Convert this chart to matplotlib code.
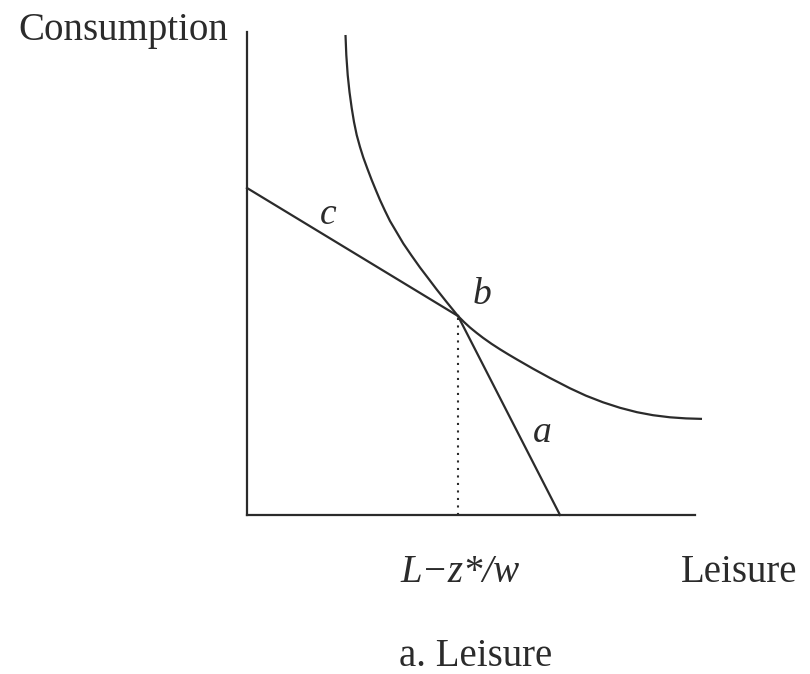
import matplotlib
matplotlib.use("Agg")
import matplotlib.pyplot as plt

# Indifference curve (leisure, consumption), traced as a sequence of points
curve_leisure = [98.5, 99.3, 100.7, 102.5, 104.7, 107, 109.7, 113, 116.3,
                 120.5, 124.7, 129, 133, 138, 143, 149.5, 156.3, 164.5, 173,
                 181, 189.7, 200, 211, 217, 223, 229.5, 236, 244.5, 253,
                 261.5, 270, 286, 303, 323, 339, 356, 373, 390, 406, 423,
                 439, 455]
curve_consumption = [480, 460, 440, 423, 407, 393, 380, 368, 357.5, 346,
                     335, 324.5, 315, 304.2, 294, 283, 271.5, 259.5, 247.5,
                     237, 225.5, 212.5, 199, 193, 187.5, 182.2, 177.2, 171.2,
                     165.7, 160.5, 155.5, 146.3, 137, 126.7, 119.3, 112.7,
                     107.2, 102.8, 99.8, 97.7, 96.6, 96.1]

# Kinked budget constraint: segment c (flat part) and segment a (steep part)
kink_point = (211, 199)            # point b
budget_c_start = (0, 327)          # intercept on the consumption axis
budget_a_end = (313, 0)            # intercept on the leisure axis

segment_labels = ["c", "b", "a"]
x_axis_label = "Leisure"
y_axis_label = "Consumption"
kink_tick_label = "L\u2212z*/w"
panel_title = "a. Leisure"

W, H, DPI = 810, 674, 100
fig = plt.figure(figsize=(W / DPI, H / DPI), dpi=DPI)
ax = fig.add_axes([247 / W, (H - 515) / H, 448 / W, 483 / H])
ax.set_xlim(0, 448)
ax.set_ylim(0, 483)

ink = "#2b2b2b"
lw = 1.6
serif = ["Liberation Serif", "DejaVu Serif"]

for side in ("top", "right"):
    ax.spines[side].set_visible(False)
for side in ("left", "bottom"):
    ax.spines[side].set_color(ink)
    ax.spines[side].set_linewidth(lw)
ax.set_xticks([])
ax.set_yticks([])

# indifference curve
ax.plot(curve_leisure, curve_consumption, color=ink, lw=lw,
        solid_joinstyle="round", solid_capstyle="butt", clip_on=False)

# budget segments
ax.plot([budget_c_start[0], kink_point[0]], [budget_c_start[1], kink_point[1]],
        color=ink, lw=lw, clip_on=False)
ax.plot([kink_point[0], budget_a_end[0]], [kink_point[1], budget_a_end[1]],
        color=ink, lw=lw, clip_on=False)

# dotted drop line from the kink to the leisure axis
ax.plot([kink_point[0], kink_point[0]], [0, kink_point[1]],
        color=ink, lw=1.5, linestyle=(0, (1, 2.6)))

# segment labels
label_pos = {"c": (81, 300), "b": (235, 220), "a": (295, 82)}
for name in segment_labels:
    ax.text(*label_pos[name], name, family=serif, style="italic",
            fontsize=27, color=ink, ha="center", va="center")

# axis titles and the label under the kink
fig.text(228 / W, 1 - 40 / H, y_axis_label, family=serif, fontsize=28,
         color=ink, ha="right", va="baseline")
fig.text(797 / W, 1 - 582 / H, x_axis_label, family=serif, fontsize=28,
         color=ink, ha="right", va="baseline")
fig.text(460 / W, 1 - 582 / H, kink_tick_label,
         family=serif, style="italic", fontsize=28, color=ink,
         ha="center", va="baseline")
fig.text(476 / W, 1 - 666 / H, panel_title, family=serif, fontsize=28,
         color=ink, ha="center", va="baseline")

fig.savefig("out.png", dpi=DPI, facecolor="white")
